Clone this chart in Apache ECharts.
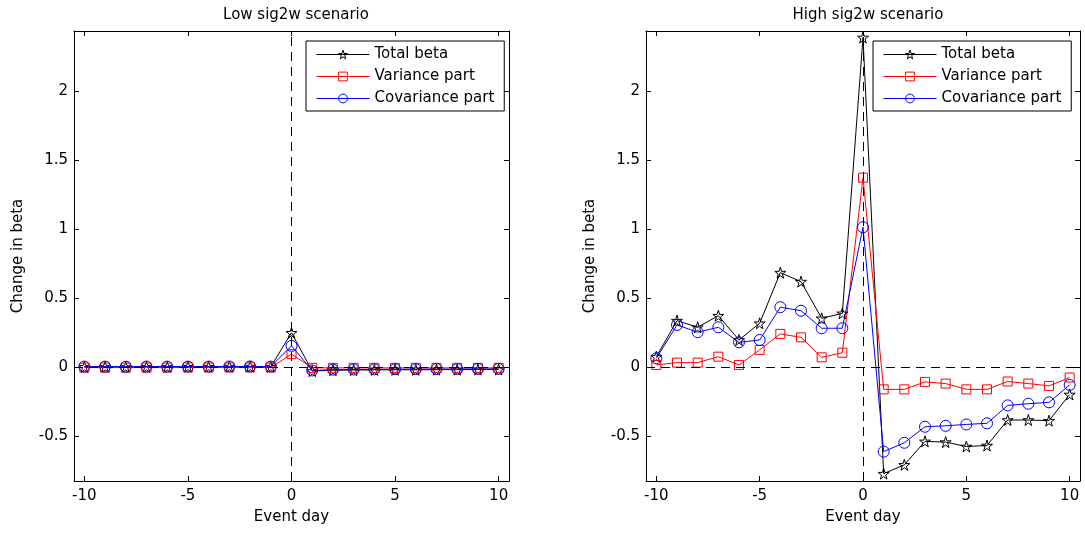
<!DOCTYPE html>
<html>
<head>
<meta charset="utf-8">
<script src="https://cdn.jsdelivr.net/npm/echarts@6/dist/echarts.min.js"></script>
<style>
  html, body { margin: 0; padding: 0; background: #fff; }
  #chart { width: 1085px; height: 533px; }
</style>
</head>
<body>
<div id="chart"></div>
<script>
var days = [-10, -9, -8, -7, -6, -5, -4, -3, -2, -1, 0, 1, 2, 3, 4, 5, 6, 7, 8, 9, 10]

// Low sig2w scenario
var lowTotal = [0.003, 0.003, 0.002, 0.003, 0.003, 0.004, 0.004, 0.005, 0.005, 0.004, 0.25,
  -0.027, -0.021, -0.020, -0.019, -0.018, -0.018, -0.017, -0.017, -0.016, -0.016]
var lowVar = [-0.002, -0.002, -0.002, -0.002, -0.002, -0.001, -0.001, -0.001, -0.001, -0.001, 0.095,
  -0.004, -0.004, -0.004, -0.004, -0.004, -0.004, -0.004, -0.004, -0.004, -0.004]
var lowCov = [0.005, 0.005, 0.004, 0.005, 0.005, 0.005, 0.005, 0.006, 0.006, 0.005, 0.155,
  -0.023, -0.017, -0.016, -0.015, -0.014, -0.014, -0.013, -0.013, -0.012, -0.012]

// High sig2w scenario
var highTotal = [0.077, 0.338, 0.29, 0.374, 0.198, 0.319, 0.686, 0.621, 0.355, 0.391, 2.39,
  -0.771, -0.707, -0.537, -0.542, -0.574, -0.567, -0.382, -0.382, -0.387, -0.197]
var highVar = [0.017, 0.034, 0.034, 0.077, 0.017, 0.126, 0.242, 0.217, 0.072, 0.106, 1.374,
  -0.16, -0.16, -0.106, -0.118, -0.16, -0.16, -0.103, -0.118, -0.135, -0.074]
var highCov = [0.065, 0.307, 0.254, 0.29, 0.181, 0.198, 0.435, 0.41, 0.283, 0.283, 1.015,
  -0.611, -0.547, -0.431, -0.424, -0.414, -0.406, -0.276, -0.264, -0.254, -0.128]

var xTicks = [-10, -5, 0, 5, 10]
var yTicks = [-0.5, 0, 0.5, 1, 1.5, 2]
var titles = ['Low sig2w scenario', 'High sig2w scenario']
var names = ['Total beta', 'Variance part', 'Covariance part']

var xMin = -10.5, xMax = 10.5
var yMin = -0.824, yMax = 2.437

var starPath = 'path://M50,0 L61,35 L98,35 L68,57 L79,91 L50,70 L21,91 L32,57 L2,35 L39,35 Z'
var font = 'DejaVu Sans'

function pairs(ys) {
  return days.map(function(d, i) {
    return [d, ys[i]]
  })
}

var grids = [
  { left: 74, top: 31, width: 435, height: 450 },
  { left: 646, top: 31, width: 434, height: 450 }
]

var xAxes = []
var yAxes = []
grids.forEach(function(g, i) {
  // bottom axis with labels
  xAxes.push({
    gridIndex: i, type: 'value', min: xMin, max: xMax,
    name: 'Event day', nameLocation: 'middle', nameGap: 29,
    nameTextStyle: { fontFamily: font, fontSize: 15, color: '#000' },
    axisLine: { show: true, onZero: false, lineStyle: { color: '#000', width: 1 } },
    axisTick: { show: true, inside: true, length: 5, customValues: xTicks, lineStyle: { color: '#000' } },
    axisLabel: { customValues: xTicks, margin: 8, fontFamily: font, fontSize: 15, color: '#000' },
    splitLine: { show: false }
  })
  // top mirror
  xAxes.push({
    gridIndex: i, type: 'value', min: xMin, max: xMax, position: 'top',
    axisLine: { show: true, onZero: false, lineStyle: { color: '#000', width: 1 } },
    axisTick: { show: true, inside: true, length: 5, customValues: xTicks, lineStyle: { color: '#000' } },
    axisLabel: { show: false },
    splitLine: { show: false }
  })
  yAxes.push({
    gridIndex: i, type: 'value', min: yMin, max: yMax,
    name: 'Change in beta', nameLocation: 'middle', nameGap: 48,
    nameTextStyle: { fontFamily: font, fontSize: 15, color: '#000' },
    axisLine: { show: true, onZero: false, lineStyle: { color: '#000', width: 1 } },
    axisTick: { show: true, inside: true, length: 5, customValues: yTicks, lineStyle: { color: '#000' } },
    axisLabel: { customValues: yTicks, margin: 6, fontFamily: font, fontSize: 15, color: '#000' },
    splitLine: { show: false }
  })
  yAxes.push({
    gridIndex: i, type: 'value', min: yMin, max: yMax, position: 'right',
    axisLine: { show: true, onZero: false, lineStyle: { color: '#000', width: 1 } },
    axisTick: { show: true, inside: true, length: 5, customValues: yTicks, lineStyle: { color: '#000' } },
    axisLabel: { show: false },
    splitLine: { show: false }
  })
})

function makeSeries(gi, name, ys, color, symbol, size, withRef) {
  var s = {
    name: name,
    type: 'line',
    xAxisIndex: gi * 2,
    yAxisIndex: gi * 2,
    data: pairs(ys),
    symbol: symbol,
    symbolSize: size,
    showSymbol: true,
    lineStyle: { color: color, width: 1 },
    itemStyle: { color: 'rgba(255,255,255,0)', borderColor: color, borderWidth: 1 },
    emphasis: { disabled: true }
  }
  if (withRef) {
    s.markLine = {
      silent: true,
      symbol: 'none',
      label: { show: false },
      lineStyle: { color: '#000', type: [9, 6], width: 1 },
      data: [{ xAxis: 0 }, { yAxis: 0 }]
    }
  }
  return s
}

var series = [
  makeSeries(0, names[0], lowTotal, '#000000', starPath, 11, true),
  makeSeries(0, names[1], lowVar, '#ff0000', 'rect', 9, false),
  makeSeries(0, names[2], lowCov, '#0000ff', 'circle', 11, false),
  makeSeries(1, names[0], highTotal, '#000000', starPath, 11, true),
  makeSeries(1, names[1], highVar, '#ff0000', 'rect', 9, false),
  makeSeries(1, names[2], highCov, '#0000ff', 'circle', 11, false)
]

function makeLegend(left) {
  return {
    data: names,
    orient: 'vertical',
    left: left,
    top: 41,
    itemWidth: 53,
    itemHeight: 11,
    itemGap: 7,
    padding: [6, 10, 5, 10],
    borderColor: '#000',
    borderWidth: 1,
    backgroundColor: '#fff',
    selectedMode: false,
    itemStyle: { color: 'rgba(255,255,255,0)', borderWidth: 1 },
    lineStyle: { width: 1 },
    textStyle: { fontFamily: font, fontSize: 15, color: '#000', lineHeight: 14 }
  }
}

var myChart = echarts.init(document.getElementById('chart'))
option = {
  animation: false,
  backgroundColor: '#fff',
  title: [
    {
      text: titles[0], left: 291, top: 3, textAlign: 'center',
      textStyle: { fontFamily: font, fontSize: 15, fontWeight: 'normal', color: '#000' }
    },
    {
      text: titles[1], left: 863, top: 3, textAlign: 'center',
      textStyle: { fontFamily: font, fontSize: 15, fontWeight: 'normal', color: '#000' }
    }
  ],
  legend: [makeLegend(306), makeLegend(873)],
  grid: grids,
  xAxis: xAxes,
  yAxis: yAxes,
  series: series
}
myChart.setOption(option, true)
</script>
</body>
</html>
